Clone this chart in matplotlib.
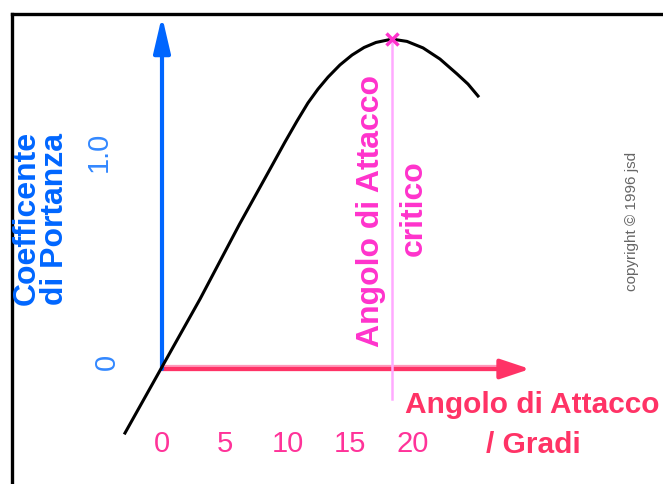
import matplotlib
matplotlib.use("Agg")
import matplotlib.pyplot as plt
from matplotlib.lines import Line2D

# curva del coefficiente di portanza in funzione dell'angolo di attacco
angolo = [-2.95, 0.0, 3.03, 6.18, 8.61, 9.80, 10.76, 11.63, 12.43, 13.23,
          14.18, 15.14, 16.10, 17.05, 18.33, 19.52, 20.80, 22.15, 23.51,
          24.38, 25.18]
cl = [-0.305, 0.010, 0.333, 0.690, 0.952, 1.081, 1.181, 1.267, 1.333, 1.390,
      1.448, 1.495, 1.531, 1.555, 1.571, 1.560, 1.529, 1.476, 1.405,
      1.357, 1.300]

angolo_critico = 18.33
cl_max = 1.571

tick_x = [0, 5, 10, 15, 20]
tick_x_lab = ["0", "5", "10", "15", "20"]
tick_y = [0.0, 1.0]
tick_y_lab = ["0", "1.0"]

BLU = "#0066ff"
BLU_CHIARO = "#3388ff"
ROSSO = "#ff3366"
ROSA_TICK = "#ff3399"
MAGENTA = "#ff33cc"
ROSA_LINEA = "#ffaaff"

W, H = 663, 485
PX_DEG = 12.55   # pixel per grado
PX_CL = 210.0    # pixel per unita' di CL
X0, Y0 = 162, 370

fig = plt.figure(figsize=(W / 100, H / 100), dpi=100)
fig.patch.set_facecolor("white")
ax = fig.add_axes([0, 0, 1, 1])
ax.set_xlim(-X0 / PX_DEG, (W - X0) / PX_DEG)
ax.set_ylim((Y0 - H) / PX_CL, Y0 / PX_CL)
ax.axis("off")

def fx(px):
    return px / W

def fy(py):
    return 1 - py / H

# cornice
fig.add_artist(Line2D([fx(12), fx(12)], [fy(15), -0.05], color="black", lw=2.4))
fig.add_artist(Line2D([fx(12), 1.05], [fy(15), fy(15)], color="black", lw=2.4))

# assi con frecce
ytop = (Y0 - 17) / PX_CL
xright = (530 - X0) / PX_DEG
ax.annotate("", xy=(0, ytop), xytext=(0, 0),
            arrowprops=dict(arrowstyle="-|>,head_length=1.8,head_width=0.42",
                            mutation_scale=12, lw=3, color=BLU,
                            shrinkA=0, shrinkB=0))
ax.plot([0, xright - 1.5], [0.006, 0.006], color="#ff99bb", lw=4.5,
        solid_capstyle="butt", zorder=1)
ax.annotate("", xy=(xright, 0), xytext=(0, 0),
            arrowprops=dict(arrowstyle="-|>,head_length=1.5,head_width=0.5",
                            mutation_scale=12, lw=3, color=ROSSO,
                            shrinkA=0, shrinkB=0), zorder=2)

# angolo critico
ax.plot([angolo_critico, angolo_critico], [(Y0 - 400) / PX_CL, cl_max],
        color=ROSA_LINEA, lw=1.8, zorder=3)
ax.plot(angolo_critico, cl_max, marker="x", ms=8, mew=2.5, color=MAGENTA,
        zorder=5)

# curva
ax.plot(angolo, cl, color="black", lw=2.2, solid_joinstyle="round", zorder=4)

# etichette degli assi
for v, s in zip(tick_x, tick_x_lab):
    ax.text(v, (Y0 - 444) / PX_CL, s, color=ROSA_TICK, fontsize=21,
            family="Liberation Sans", ha="center", va="center")
for v, s, px in zip(tick_y, tick_y_lab, [107, 99]):
    ax.annotate(s, xy=((px - X0) / PX_DEG, v), xytext=(0, 6),
                textcoords="offset points", color=BLU_CHIARO, fontsize=21,
                family="Liberation Sans", rotation=90,
                ha="center", va="center")

fig.text(fx(41), fy(218), "Coefficente\ndi Portanza", color=BLU,
         fontsize=23, fontweight="bold", family="Liberation Sans",
         rotation=90, ha="center", va="center", multialignment="left",
         linespacing=0.95)

fig.text(fx(371), fy(211), "Angolo di Attacco", color=MAGENTA, fontsize=23,
         fontweight="bold", family="Liberation Sans", rotation=90,
         ha="center", va="center")
fig.text(fx(414), fy(208), "critico", color=MAGENTA, fontsize=23,
         fontweight="bold", family="Liberation Sans", rotation=90,
         ha="center", va="center")

fig.text(fx(532), fy(405), "Angolo di Attacco", color=ROSSO, fontsize=21.5,
         fontweight="bold", family="Liberation Sans", ha="center", va="center")
fig.text(fx(533), fy(445), "/ Gradi", color=ROSSO, fontsize=21.5,
         fontweight="bold", family="Liberation Sans", ha="center", va="center")

fig.text(fx(632), fy(221), "copyright \u00a9 1996 jsd", color="#666666",
         fontsize=11, family="Liberation Sans", rotation=90,
         ha="center", va="center")

fig.savefig("out.png", dpi=100)
